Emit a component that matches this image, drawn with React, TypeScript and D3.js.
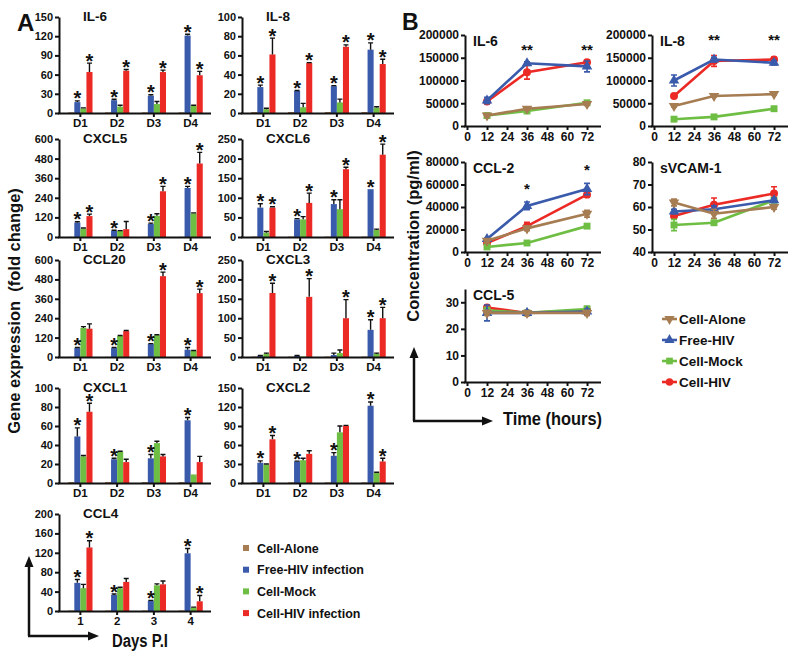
import { useEffect, useRef } from "react";
import * as d3 from "d3";

const FONT = "'Liberation Sans', Arial, Helvetica, sans-serif";
const INK = "#111";

// ---- Panel A: gene expression (fold change) ----
const seriesNames = ["Cell-Alone", "Free-HIV infection", "Cell-Mock", "Cell-HIV infection"];
const seriesColors = ["#a67c52", "#3a5aab", "#6fbe44", "#ec2a25"];
const days = ["D1", "D2", "D3", "D4"];
const dayNums = ["1", "2", "3", "4"];

const genes = ["IL-6", "IL-8", "CXCL5", "CXCL6", "CCL20", "CXCL3", "CXCL1", "CXCL2", "CCL4"];
const geneMax = [150, 100, 600, 250, 600, 250, 100, 150, 200];
const geneStep = [30, 20, 120, 50, 120, 50, 20, 30, 40];

// baseline: uninfected cells alone = 1 fold
const cellAloneFold = [1, 1, 1, 1];

const freeHiv = [
  [17, 20, 27, 121], [27, 23, 28, 66], [88, 38, 80, 300], [75, 45, 84, 122], [55, 55, 80, 45],
  [3, 3, 5, 70], [49, 25, 26, 66], [32, 34, 43, 122], [58, 33, 21, 119],
];
const freeHivErr = [
  [2, 1.5, 1.5, 2], [2, 0.5, 0.5, 7], [5, 3, 5, 10], [10, 2, 11, 0], [4, 4, 3, 14],
  [1, 1, 5, 26], [9, 1, 4, 3], [3, 0.5, 5, 6], [7, 2, 1, 10],
];
const cellMock = [
  [7, 10, 14, 11], [4, 6, 11, 5.5], [50, 37, 130, 145], [11, 45, 71, 18], [180, 130, 135, 38],
  [8, 1, 10, 8], [28, 33, 42, 9], [29, 36, 80, 16], [47, 47, 53, 7],
];
const cellMockErr = [
  [1, 2, 4, 1], [1, 4, 3.5, 1], [5, 2, 12, 3], [3, 7, 24, 2], [8, 3, 3, 2],
  [2, 0, 8, 2], [1, 0.5, 2, 0], [1, 3, 10, 1], [8, 2, 3, 1],
];
const cellHiv = [
  [64, 66, 64, 59], [61, 52, 69, 51], [128, 48, 280, 450], [75, 87, 173, 210], [175, 160, 500, 395],
  [165, 155, 100, 100], [75, 22, 28, 22], [69, 46, 90, 34], [131, 60, 55, 20],
];
const cellHivErr = [
  [14, 2, 3, 6], [17, 0.5, 2, 5], [12, 47, 30, 68], [2, 25, 5, 27], [30, 4, 25, 25],
  [25, 47, 48, 28], [9, 3, 2, 6], [6, 5, 1, 5], [14, 7, 7, 12],
];
// b = star over Free-HIV bar, r = star over Cell-HIV bar
const geneStars = [
  ["br", "br", "br", "br"], ["br", "br", "br", "br"], ["br", "b", "br", "br"],
  ["br", "br", "br", "br"], ["b", "b", "br", "br"], ["r", "r", "r", "br"],
  ["br", "b", "b", "b"], ["br", "b", "b", "br"], ["br", "b", "b", "br"],
];

// ---- Panel B: secreted protein (pg/ml) ----
const legendB = ["Cell-Alone", "Free-HIV", "Cell-Mock", "Cell-HIV"];
const cytokines = ["IL-6", "IL-8", "CCL-2", "sVCAM-1", "CCL-5"];
const cytoMin = [0, 0, 0, 40, 0];
const cytoMax = [200000, 200000, 80000, 80, 35];
const cytoTicks = [
  [0, 50000, 100000, 150000, 200000],
  [0, 50000, 100000, 150000, 200000],
  [0, 20000, 40000, 60000, 80000],
  [40, 50, 60, 70, 80],
  [0, 10, 20, 30],
];
const hours = [12, 36, 72];
const hourTicks = [0, 12, 24, 36, 48, 60, 72];

const aloneB = [[23000, 38000, 48500], [44000, 66000, 70000], [10000, 21000, 34000], [62, 57, 60], [26, 26, 26]];
const aloneBErr = [[2000, 2000, 2000], [2000, 2000, 2000], [1000, 2000, 3000], [1.5, 2, 1], [1, 0.5, 1]];
const freeB = [[56000, 138000, 131000], [100000, 146000, 139000], [11500, 41000, 56000], [58, 59, 63], [26, 26, 26.5]];
const freeBErr = [[7000, 3000, 12000], [12000, 5000, 5000], [1000, 3500, 5000], [1, 1.5, 1], [3, 0.5, 1]];
const mockB = [[23000, 33000, 51000], [15000, 20000, 38000], [4500, 8000, 23000], [52, 53, 63], [27, 26, 27.5]];
const mockBErr = [[1000, 2000, 2000], [1500, 1500, 2000], [500, 1000, 1500], [2.5, 1, 1], [1, 0.5, 1]];
const hivB = [[54000, 118000, 140000], [66000, 143000, 146000], [8000, 23000, 51000], [56, 61, 66], [28, 26, 27]];
const hivBErr = [[3000, 15000, 5000], [2000, 12000, 5000], [1000, 3500, 1500], [1, 3, 3], [1, 0.5, 1]];

const starHours = [[36, 72], [36, 72], [36, 72], [], []];
const starText = ["**", "**", "*", "", ""];
const starLevel = [[175000, 175000], [197000, 197000], [59000, 76000], [], []];

// layout
const colAxisX = [59, 242];
const rowTop = [17, 139, 260, 388, 514];
const rowBottom = [113, 237, 357, 483, 611];
const panelB = [
  { ax: 465, top: 35, bottom: 126 },
  { ax: 652, top: 35, bottom: 126 },
  { ax: 465, top: 162, bottom: 252 },
  { ax: 652, top: 162, bottom: 252 },
  { ax: 465, top: 289, bottom: 382 },
];

function styleAxis(g: any, size: number) {
  g.attr("font-family", FONT).attr("font-size", size).attr("font-weight", "bold");
  g.select(".domain").attr("stroke", INK).attr("stroke-width", 2);
  g.selectAll(".tick line").attr("stroke", INK).attr("stroke-width", 2);
  g.selectAll(".tick text").attr("fill", INK);
}

function arrow(svg: any, x0: number, y0: number, x1: number, y1: number) {
  const ang = Math.atan2(y1 - y0, x1 - x0);
  const L = 11, hw = 4.5;
  const bx = x1 - L * Math.cos(ang), by = y1 - L * Math.sin(ang);
  svg.append("line").attr("x1", x0).attr("y1", y0).attr("x2", bx).attr("y2", by)
    .attr("stroke", INK).attr("stroke-width", 2.5);
  const px = -Math.sin(ang) * hw, py = Math.cos(ang) * hw;
  svg.append("path")
    .attr("d", `M${x1},${y1}L${bx + px},${by + py}L${bx - px},${by - py}Z`)
    .attr("fill", INK);
}

export default function App() {
  const ref = useRef<SVGSVGElement>(null);

  useEffect(() => {
    if (!ref.current) return;
    const svg = d3.select(ref.current);
    svg.selectAll("*").remove();

    // ---------- Panel A ----------
    genes.forEach((gene, gi) => {
      const ax = colAxisX[gi % 2];
      const top = rowTop[Math.floor(gi / 2)];
      const bottom = rowBottom[Math.floor(gi / 2)];
      const g = svg.append("g");

      const y = d3.scaleLinear().domain([0, geneMax[gi]]).range([bottom, top]);
      const x = d3.scaleBand().domain(days).range([ax + 3, ax + 150]);
      const xs = d3.scaleBand().domain(seriesNames)
        .range([x.bandwidth() * 0.17, x.bandwidth() * 0.83]);

      const vals = [cellAloneFold, freeHiv[gi], cellMock[gi], cellHiv[gi]];
      const errs = [null, freeHivErr[gi], cellMockErr[gi], cellHivErr[gi]];
      const bars = days.flatMap((d, di) =>
        seriesNames.map((s, si) => ({
          d, di, s, si,
          v: vals[si][di],
          e: errs[si] ? (errs[si] as number[])[di] : 0,
        }))
      );
      const cx = (b: any) => (x(b.d) ?? 0) + (xs(b.s) ?? 0) + xs.bandwidth() / 2;

      g.selectAll("rect.bar").data(bars).join("rect")
        .attr("class", "bar")
        .attr("x", (b) => (x(b.d) ?? 0) + (xs(b.s) ?? 0))
        .attr("y", (b) => y(b.v))
        .attr("width", xs.bandwidth())
        .attr("height", (b) => bottom - y(b.v))
        .attr("fill", (b) => seriesColors[b.si]);

      g.selectAll("path.err").data(bars.filter((b) => b.e > 0)).join("path")
        .attr("class", "err")
        .attr("d", (b) => {
          const c = cx(b), y0 = y(b.v), y1 = y(b.v + b.e);
          return `M${c},${y0}V${y1}M${c - 2.5},${y1}H${c + 2.5}`;
        })
        .attr("fill", "none").attr("stroke", INK).attr("stroke-width", 1.4);

      const starred = bars.filter((b) =>
        (b.si === 1 && geneStars[gi][b.di].includes("b")) ||
        (b.si === 3 && geneStars[gi][b.di].includes("r")));
      g.selectAll("text.star").data(starred).join("text")
        .attr("class", "star")
        .attr("x", (b) => cx(b))
        .attr("y", (b) => y(b.v + b.e) + 4.5)
        .attr("text-anchor", "middle")
        .attr("font-family", FONT).attr("font-weight", "bold").attr("font-size", 20)
        .attr("fill", INK)
        .text("*");

      g.append("g").attr("transform", `translate(${ax},0)`)
        .call(d3.axisLeft(y)
          .tickValues(d3.range(0, geneMax[gi] + 1, geneStep[gi]))
          .tickSize(4).tickSizeOuter(0).tickPadding(2))
        .call((a) => styleAxis(a, 11));

      const xg = g.append("g").attr("transform", `translate(0,${bottom})`)
        .call(d3.axisBottom(x).tickSize(4).tickSizeOuter(0).tickPadding(2)
          .tickFormat((d, i) => (gi === 8 ? dayNums[i] : d)))
        .call((a) => styleAxis(a, 11.5));
      xg.select(".domain").remove();
      g.append("line").attr("x1", ax - 1).attr("x2", ax + 152)
        .attr("y1", bottom + 0.5).attr("y2", bottom + 0.5)
        .attr("stroke", INK).attr("stroke-width", 2);

      g.append("text").attr("x", ax + 24).attr("y", top + 4)
        .attr("font-family", FONT).attr("font-weight", "bold").attr("font-size", 13.5)
        .attr("fill", INK).text(gene);
    });

    // Panel A labels
    svg.append("text").attr("x", 17).attr("y", 31)
      .attr("font-family", FONT).attr("font-weight", "bold").attr("font-size", 24)
      .attr("fill", INK).text("A");
    svg.append("text").attr("transform", "translate(20,311) rotate(-90)")
      .attr("text-anchor", "middle")
      .attr("font-family", FONT).attr("font-weight", "bold").attr("font-size", 16.5)
      .attr("fill", INK).text("Gene expression  (fold change)")
      .attr("xml:space", "preserve");
    arrow(svg, 29, 636, 29, 556);
    arrow(svg, 28, 636, 99, 636);
    svg.append("text").attr("x", 112).attr("y", 647)
      .attr("font-family", FONT).attr("font-weight", "bold").attr("font-size", 18)
      .attr("textLength", 56).attr("lengthAdjust", "spacingAndGlyphs")
      .attr("fill", INK).text("Days P.I");

    // Legend A
    const legA = svg.append("g");
    seriesNames.forEach((s, i) => {
      const ly = 548 + i * 21.7;
      legA.append("rect").attr("x", 243).attr("y", ly - 3).attr("width", 6).attr("height", 6)
        .attr("fill", seriesColors[i]);
      legA.append("text").attr("x", 257).attr("y", ly + 4.5)
        .attr("font-family", FONT).attr("font-weight", "bold").attr("font-size", 12.5)
        .attr("fill", INK).text(s);
    });

    // ---------- Panel B ----------
    const symbols = [
      { type: d3.symbolTriangle, rot: 180 },
      { type: d3.symbolTriangle, rot: 0 },
      { type: d3.symbolSquare, rot: 0 },
      { type: d3.symbolCircle, rot: 0 },
    ];
    const drawOrder = [3, 2, 1, 0];

    cytokines.forEach((name, ci) => {
      const { ax, top, bottom } = panelB[ci];
      const g = svg.append("g");
      const x = d3.scaleLinear().domain([0, 79]).range([ax + 2, ax + 133.7]);
      const y = d3.scaleLinear().domain([cytoMin[ci], cytoMax[ci]]).range([bottom, top]);

      const vals = [aloneB[ci], freeB[ci], mockB[ci], hivB[ci]];
      const errs = [aloneBErr[ci], freeBErr[ci], mockBErr[ci], hivBErr[ci]];

      g.append("g").attr("transform", `translate(${ax},0)`)
        .call(d3.axisLeft(y).tickValues(cytoTicks[ci]).tickFormat(d3.format("d"))
          .tickSize(4).tickSizeOuter(0).tickPadding(2))
        .call((a) => styleAxis(a, 12));
      const xg = g.append("g").attr("transform", `translate(0,${bottom})`)
        .call(d3.axisBottom(x).tickValues(hourTicks).tickFormat(d3.format("d"))
          .tickSize(4).tickSizeOuter(0).tickPadding(2))
        .call((a) => styleAxis(a, 12));
      xg.select(".domain").remove();
      g.append("line").attr("x1", ax - 1).attr("x2", ax + 136)
        .attr("y1", bottom + 0.5).attr("y2", bottom + 0.5)
        .attr("stroke", INK).attr("stroke-width", 2);

      const line = d3.line<number>().x((_, i) => x(hours[i])).y((v) => y(v));
      drawOrder.forEach((si) => {
        const col = seriesColors[si];
        g.append("path").attr("d", line(vals[si]) ?? "")
          .attr("fill", "none").attr("stroke", col).attr("stroke-width", 2.6);
        g.selectAll(`path.eb${si}`).data(vals[si]).join("path")
          .attr("d", (v, i) => {
            const px = x(hours[i]), ya = y(v - errs[si][i]), yb = y(v + errs[si][i]);
            return `M${px},${ya}V${yb}M${px - 3},${ya}H${px + 3}M${px - 3},${yb}H${px + 3}`;
          })
          .attr("fill", "none").attr("stroke", col).attr("stroke-width", 1.6);
        g.selectAll(`path.mk${si}`).data(vals[si]).join("path")
          .attr("transform", (v, i) => `translate(${x(hours[i])},${y(v)}) rotate(${symbols[si].rot})`)
          .attr("d", d3.symbol().type(symbols[si].type).size(si === 3 ? 50 : 48)() ?? "")
          .attr("fill", col);
      });

      starHours[ci].forEach((h, k) => {
        g.append("text").attr("x", x(h)).attr("y", y(starLevel[ci][k]) + 8.5)
          .attr("text-anchor", "middle")
          .attr("font-family", FONT).attr("font-weight", "bold").attr("font-size", 15)
          .attr("fill", INK).text(starText[ci]);
      });

      g.append("text").attr("x", ax + 8).attr("y", top + 11)
        .attr("font-family", FONT).attr("font-weight", "bold").attr("font-size", 14)
        .attr("fill", INK).text(name);
    });

    svg.append("text").attr("x", 402).attr("y", 30)
      .attr("font-family", FONT).attr("font-weight", "bold").attr("font-size", 23)
      .attr("fill", INK).text("B");
    svg.append("text").attr("transform", "translate(419,236) rotate(-90)")
      .attr("text-anchor", "middle")
      .attr("font-family", FONT).attr("font-weight", "bold").attr("font-size", 16.5)
      .attr("fill", INK).text("Concentration (pg/ml)");
    arrow(svg, 414, 421, 414, 347);
    arrow(svg, 413, 421, 493, 421);
    svg.append("text").attr("x", 503).attr("y", 425)
      .attr("font-family", FONT).attr("font-weight", "bold").attr("font-size", 18)
      .attr("textLength", 99).attr("lengthAdjust", "spacingAndGlyphs")
      .attr("fill", INK).text("Time (hours)");

    // Legend B
    const legB = svg.append("g");
    legendB.forEach((s, i) => {
      const ly = 319 + i * 21;
      legB.append("line").attr("x1", 662).attr("x2", 677).attr("y1", ly).attr("y2", ly)
        .attr("stroke", seriesColors[i]).attr("stroke-width", 2.6);
      legB.append("path")
        .attr("transform", `translate(669.5,${ly}) rotate(${symbols[i].rot})`)
        .attr("d", d3.symbol().type(symbols[i].type).size(45)() ?? "")
        .attr("fill", seriesColors[i]);
      legB.append("text").attr("x", 679).attr("y", ly + 5)
        .attr("font-family", FONT).attr("font-weight", "bold").attr("font-size", 13.5)
        .attr("fill", INK).text(s);
    });
  }, []);

  return (
    <svg
      ref={ref}
      width={795}
      height={657}
      style={{ position: "absolute", left: 0, top: 0, background: "#fff" }}
    />
  );
}
